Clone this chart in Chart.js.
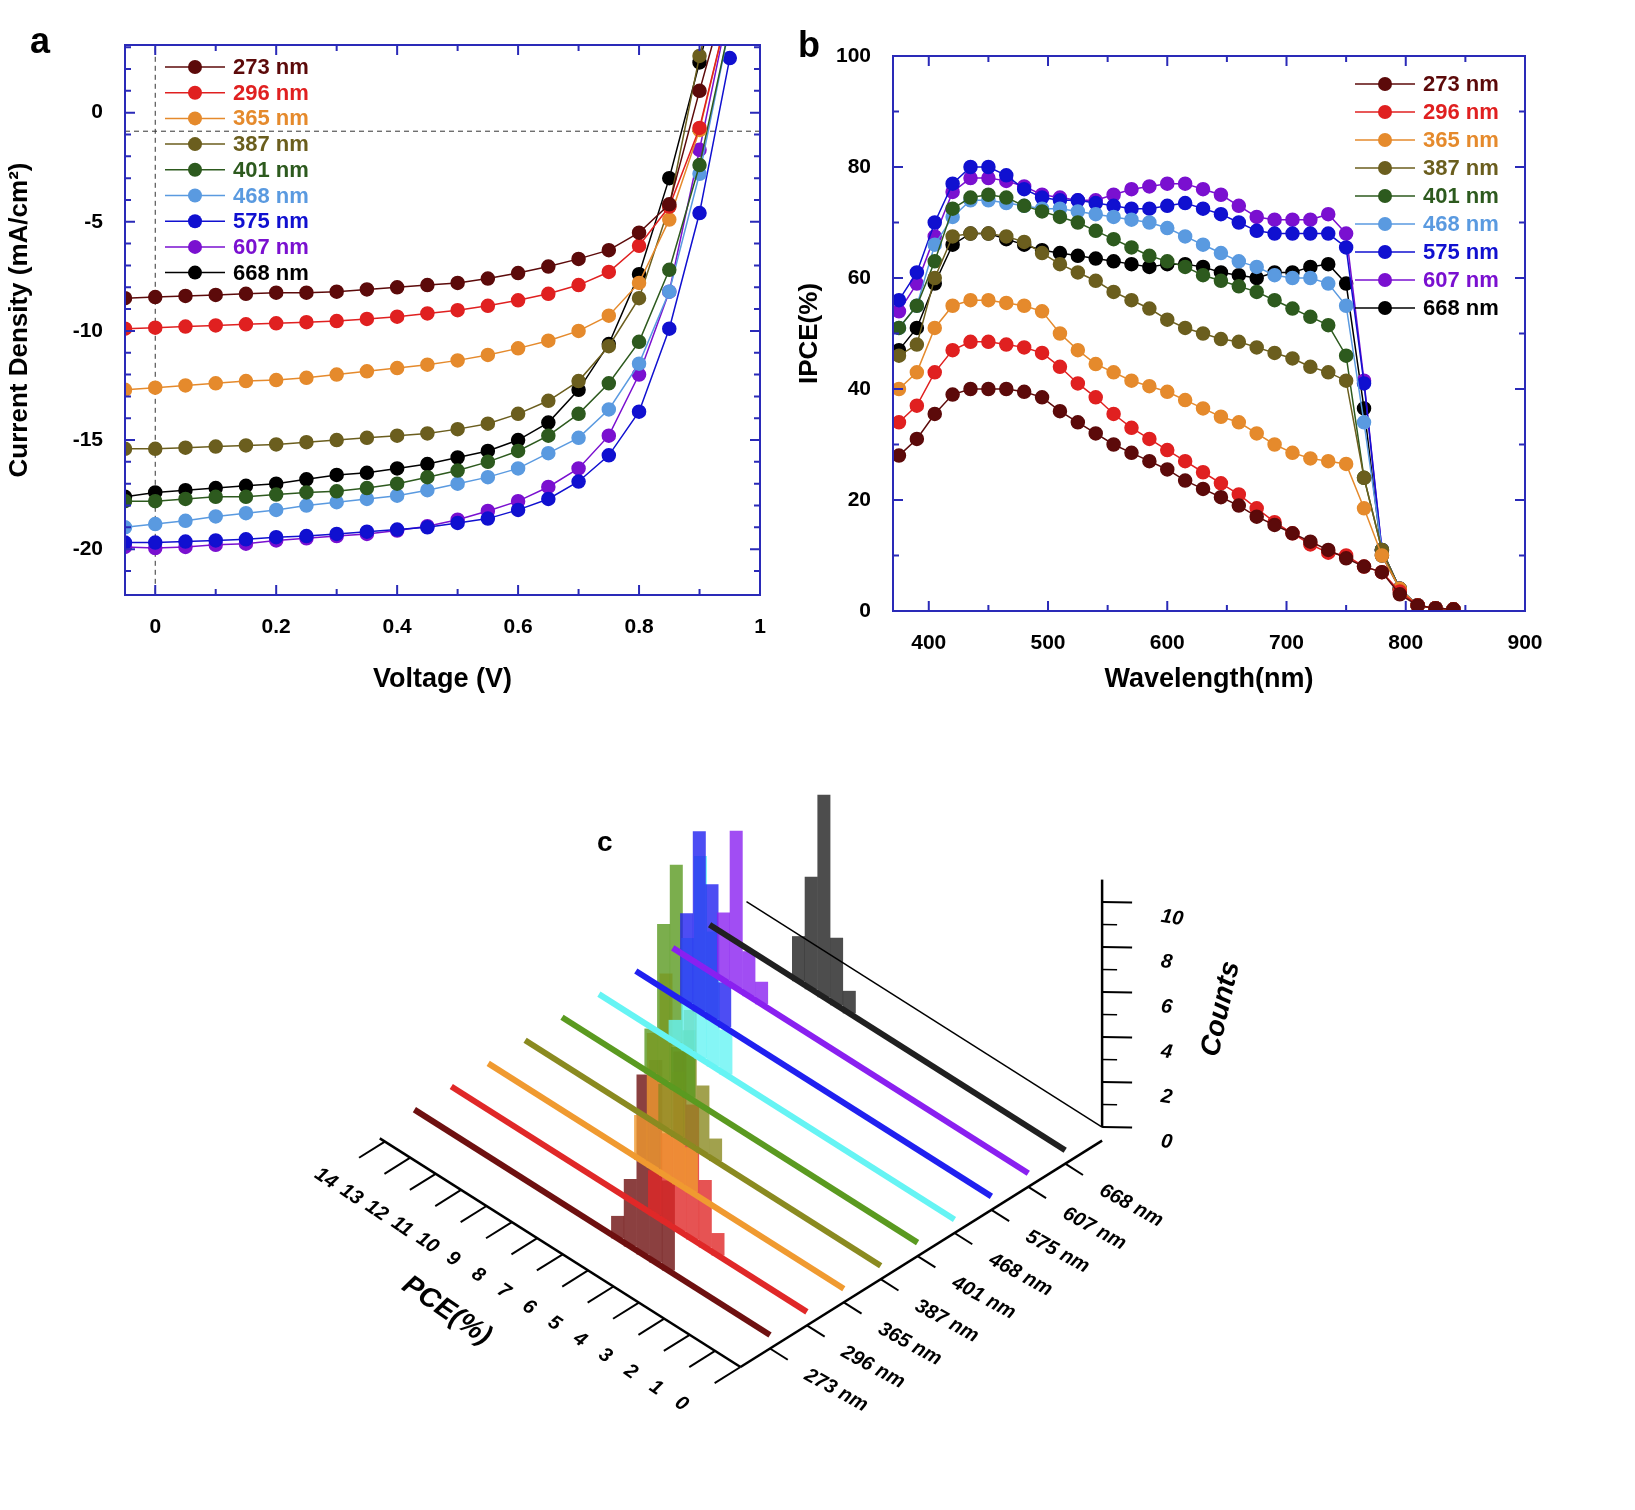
<!DOCTYPE html>
<html><head><meta charset="utf-8">
<script src="https://cdn.jsdelivr.net/npm/chart.js@4"></script>
<style>
body{margin:0;background:#fff;width:1635px;height:1510px;position:relative;overflow:hidden;font-family:Arial,"Liberation Sans",sans-serif}
canvas{position:absolute}
.lab{position:absolute;font:bold 36px "Liberation Sans",Arial,sans-serif}
</style></head><body>
<canvas id="ca" style="left:0;top:0" width="790" height="700"></canvas>
<canvas id="cb" style="left:790px;top:0" width="845" height="700"></canvas>
<canvas id="cc" style="left:300px;top:780px" width="1000" height="680"></canvas>
<div class="lab" style="left:30px;top:20px">a</div>
<div class="lab" style="left:798px;top:24px">b</div>
<div class="lab" style="left:597px;top:826px;font-size:28px">c</div>
<script>
const labels = ["273 nm","296 nm","365 nm","387 nm","401 nm","468 nm","575 nm","607 nm","668 nm"];
const colors = ["#5c0a0a","#e02020","#e58a2c","#6b5e1e","#2d5a1e","#5a9ae0","#1010d0","#7a10d0","#000000"];
const cColors = ["#6e1010","#e02828","#f09a30","#8a8a20","#5a9a20","#66f4f4","#2020f0","#8a20f0","#202020"];

const voltage = [-0.05,0,0.05,0.1,0.15,0.2,0.25,0.3,0.35,0.4,0.45,0.5,0.55,0.6,0.65,0.7,0.75,0.8,0.85,0.9,0.95];
const j273 = [-8.5,-8.45,-8.4,-8.35,-8.3,-8.25,-8.25,-8.2,-8.1,-8.0,-7.9,-7.8,-7.6,-7.35,-7.05,-6.7,-6.3,-5.5,-4.2,1.0,6];
const j296 = [-9.9,-9.85,-9.8,-9.75,-9.7,-9.65,-9.6,-9.55,-9.45,-9.35,-9.2,-9.05,-8.85,-8.6,-8.3,-7.9,-7.3,-6.1,-4.3,-0.7,5];
const j365 = [-12.7,-12.6,-12.5,-12.4,-12.3,-12.25,-12.15,-12.0,-11.85,-11.7,-11.55,-11.35,-11.1,-10.8,-10.45,-10.0,-9.3,-7.8,-4.9,-0.8,5];
const j387 = [-15.4,-15.4,-15.35,-15.3,-15.25,-15.2,-15.1,-15.0,-14.9,-14.8,-14.7,-14.5,-14.25,-13.8,-13.2,-12.3,-10.7,-8.5,-4.3,2.6,8];
const j401 = [-17.8,-17.8,-17.7,-17.6,-17.6,-17.5,-17.4,-17.35,-17.2,-17.0,-16.7,-16.4,-16.0,-15.5,-14.8,-13.8,-12.4,-10.5,-7.2,-2.4,4];
const j468 = [-19.0,-18.85,-18.7,-18.5,-18.35,-18.2,-18.0,-17.85,-17.7,-17.55,-17.3,-17.0,-16.7,-16.3,-15.6,-14.9,-13.6,-11.5,-8.2,-2.8,4];
const j575 = [-19.7,-19.7,-19.65,-19.6,-19.55,-19.45,-19.4,-19.3,-19.2,-19.1,-19.0,-18.8,-18.6,-18.2,-17.7,-16.9,-15.7,-13.7,-9.9,-4.6,2.5];
const j607 = [-19.9,-19.95,-19.9,-19.8,-19.75,-19.6,-19.5,-19.4,-19.3,-19.15,-18.95,-18.65,-18.25,-17.8,-17.15,-16.3,-14.8,-12.0,-8.2,-1.7,5];
const j668 = [-17.6,-17.4,-17.3,-17.2,-17.1,-17.0,-16.8,-16.6,-16.5,-16.3,-16.1,-15.8,-15.5,-15.0,-14.2,-12.7,-10.6,-7.4,-3.0,2.3,8];
const jv = [j273,j296,j365,j387,j401,j468,j575,j607,j668];

const wavelength = [375,390,405,420,435,450,465,480,495,510,525,540,555,570,585,600,615,630,645,660,675,690,705,720,735,750,765,780,795,810,825,840];
const q273 = [28,31,35.5,39,40,40,40,39.5,38.5,36,34,32,30,28.5,27,25.5,23.5,22,20.5,19,17,15.5,14,12.5,11,9.5,8,7,3,1,0.5,0.3];
const q296 = [34,37,43,47,48.5,48.5,48,47.5,46.5,44,41,38.5,35.5,33,31,29,27,25,23,21,18.5,16,14,12,10.5,10,8,7,3.5,1,0.5,0.3];
const q365 = [40,43,51,55,56,56,55.5,55,54,50,47,44.5,43,41.5,40.5,39.5,38,36.5,35,34,32,30,28.5,27.5,27,26.5,18.5,10,4,1,0.5,0.3];
const q387 = [46,48,60,67.5,68,68,67.5,66.5,64.5,62.5,61,59.5,57.5,56,54.5,52.5,51,50,49,48.5,47.5,46.5,45.5,44,43,41.5,24,11,4,1,0.5,0.3];
const q401 = [51,55,63,72.5,74.5,75,74.5,73,72,71,70,68.5,67,65.5,64,63,62,60.5,59.5,58.5,57.5,56,54.5,53,51.5,46,24,11,4,1,0.5,0.3];
const q468 = [51,55,66,71,74,74,73.5,73,72.5,72.5,72,71.5,71,70.5,70,69,67.5,66,64.5,63,62,60.5,60,60,59,55,34,11,4,1,0.5,0.3];
const q575 = [56,61,70,77,80,80,78.5,76,74.5,74,74,73.5,73,72.5,72.5,73,73.5,72.5,71.5,70,68.5,68,68,68,68,65.5,41,11,4,1,0.5,0.3];
const q607 = [54,59,67.5,75.5,78,78,77.5,76.5,75,74.5,74,74,75,76,76.5,77,77,76,75,73,71,70.5,70.5,70.5,71.5,68,41.5,11,4,1,0.5,0.3];
const q668 = [47,51,59,66,68,68,67,66,65,64.5,64,63.5,63,62.5,62,62.5,62.5,62,61,60.5,60,61,61,62,62.5,59,36.5,10,4,1,0.5,0.3];
const ipce = [q273,q296,q365,q387,q401,q468,q575,q607,q668];

// panel c histograms: PCE bin centres and counts per thickness
const pce273 = [4.0,4.5,5.0,5.5,6.0], cnt273 = [4,9,8,3,1];
const pce296 = [3.5,4.0,4.5,5.0,5.5,6.0], cnt296 = [1,3,6,8,4,2];
const pce365 = [6.0,6.5,7.0,7.5,8.0], cnt365 = [2,5,9,6,2];
const pce387 = [6.5,7.0,7.5,8.0,8.5], cnt387 = [1,3,6,4,2];
const pce401 = [9.0,9.5,10.0,10.5], cnt401 = [3,10,7,2];
const pce468 = [9.0,9.5,10.0,10.5,11.0], cnt468 = [2,6,9,5,1];
const pce575 = [10.5,11.0,11.5,12.0], cnt575 = [2,6,8,4];
const pce607 = [10.5,11.0,11.5,12.0], cnt607 = [1,2,7,3];
const pce668 = [8.5,9.0,9.5,10.0,10.5], cnt668 = [1,3,9,5,2];
const hPce = [pce273,pce296,pce365,pce387,pce401,pce468,pce575,pce607,pce668];
const hCnt = [cnt273,cnt296,cnt365,cnt387,cnt401,cnt468,cnt575,cnt607,cnt668];
const pceTicks = [0,1,2,3,4,5,6,7,8,9,10,11,12,13,14];
const countTicks = [0,2,4,6,8,10];

const AX = '#2a2ab8';
const F = 'bold 22px "Liberation Sans", Arial, sans-serif';
function frame(color,xMaj,xMin,yMaj,yMin){return {id:'frame',afterDraw(c){const a=c.chartArea,x=c.ctx,sx=c.scales.x,sy=c.scales.y;x.save();x.strokeStyle=color;x.lineWidth=2;x.strokeRect(a.left,a.top,a.right-a.left,a.bottom-a.top);
 const tk=(vals,len)=>{vals.forEach(v=>{const px=sx.getPixelForValue(v);x.beginPath();x.moveTo(px,a.bottom);x.lineTo(px,a.bottom-len);x.moveTo(px,a.top);x.lineTo(px,a.top+len);x.stroke();});};
 const tky=(vals,len)=>{vals.forEach(v=>{const py=sy.getPixelForValue(v);x.beginPath();x.moveTo(a.left,py);x.lineTo(a.left+len,py);x.moveTo(a.right,py);x.lineTo(a.right-len,py);x.stroke();});};
 tk(xMaj,10);tk(xMin,6);tky(yMaj,10);tky(yMin,6);x.restore();}};}
function legendPlugin(x0,y0,dy){return {id:'lg',afterDraw(c){const x=c.ctx;x.save();x.font=F;x.textBaseline='middle';
 labels.forEach((l,i)=>{const y=y0+i*dy;x.strokeStyle=colors[i];x.lineWidth=1.5;x.beginPath();x.moveTo(x0,y);x.lineTo(x0+60,y);x.stroke();
 x.fillStyle=colors[i];x.beginPath();x.arc(x0+30,y,7,0,7);x.fill();x.fillText(l,x0+68,y+1);});x.restore();}};}

Chart.defaults.animation=false;
Chart.defaults.font.family='"Liberation Sans", Arial, sans-serif';
Chart.defaults.color='#000';

const yMinorA=[-21,-19,-18,-17,-16,-14,-13,-12,-11,-9,-8,-7,-6,-4,-3,-2,-1,1,2,3];
new Chart(document.getElementById('ca'),{type:'scatter',
 data:{datasets:[
  ...jv.map((d,i)=>({label:labels[i],data:voltage.map((v,k)=>({x:v,y:d[k]})),showLine:true,borderColor:colors[i],backgroundColor:colors[i],borderWidth:1.5,pointRadius:6.5,pointHoverRadius:6.5})),
  {label:'h',data:[{x:-0.05,y:-0.85},{x:1,y:-0.85}],showLine:true,borderColor:'#333',borderWidth:1,borderDash:[5,4],pointRadius:0},
  {label:'v',data:[{x:0,y:-22},{x:0,y:3.1}],showLine:true,borderColor:'#333',borderWidth:1,borderDash:[5,4],pointRadius:0}
 ]},
 options:{responsive:false,clip:true,layout:{padding:{top:45,right:30,left:0,bottom:0}},
  plugins:{legend:{display:false},tooltip:{enabled:false}},
  scales:{
   x:{type:'linear',min:-0.05,max:1,afterBuildTicks(s){s.ticks=[0,0.2,0.4,0.6,0.8,1].map(v=>({value:v}));},
      afterFit(s){s.height=105;},
      ticks:{font:{size:21,weight:'bold'},padding:12,callback:v=>v===0||v===1?String(v):v.toFixed(1)},
      grid:{display:false},border:{color:AX,width:2},
      title:{display:true,text:'Voltage (V)',font:{size:27,weight:'bold'},padding:{top:4}}},
   y:{min:-22.1,max:3.1,afterBuildTicks(s){s.ticks=[-20,-15,-10,-5,0].map(v=>({value:v}));},
      afterFit(s){s.width=125;},
      ticks:{font:{size:21,weight:'bold'},padding:14},
      grid:{display:false},border:{color:AX,width:2},
      title:{display:true,text:'Current Density (mA/cm²)',font:{size:26,weight:'bold'},padding:{bottom:6}}}
  }},
 plugins:[frame(AX,[0,0.2,0.4,0.6,0.8,1],[0.1,0.3,0.5,0.7,0.9],[-20,-15,-10,-5,0],yMinorA),legendPlugin(165,67,25.7)]});

new Chart(document.getElementById('cb'),{type:'scatter',
 data:{datasets:ipce.map((d,i)=>({label:labels[i],data:wavelength.map((w,k)=>({x:w,y:d[k]})),showLine:true,borderColor:colors[i],backgroundColor:colors[i],borderWidth:1.5,pointRadius:6.5,pointHoverRadius:6.5}))},
 options:{responsive:false,layout:{padding:{top:56,right:110,left:0,bottom:0}},
  plugins:{legend:{display:false},tooltip:{enabled:false}},
  scales:{
   x:{type:'linear',min:370,max:900,afterBuildTicks(s){s.ticks=[400,500,600,700,800,900].map(v=>({value:v}));},
      afterFit(s){s.height=89;},
      ticks:{font:{size:21,weight:'bold'},padding:12},
      grid:{display:false},border:{color:AX,width:2},
      title:{display:true,text:'Wavelength(nm)',font:{size:27,weight:'bold'},padding:{top:4}}},
   y:{min:0,max:100,afterBuildTicks(s){s.ticks=[0,20,40,60,80,100].map(v=>({value:v}));},
      afterFit(s){s.width=103;},
      ticks:{font:{size:21,weight:'bold'},padding:14},
      grid:{display:false},border:{color:AX,width:2},
      title:{display:true,text:'IPCE(%)',font:{size:26,weight:'bold'},padding:{bottom:4}}}
  }},
 plugins:[frame(AX,[400,500,600,700,800,900],[450,550,650,750,850],[0,20,40,60,80,100],[10,30,50,70,90]),legendPlugin(565,84,28)]});

// ---- panel c: oblique projection
function P(p,k,c){return {x:470-25.4*p+36.9*k, y:555-16.1*p-23.1*k-22.5*c};}
function seg(a,b,color,w){return {data:[a,b],showLine:true,borderColor:color,borderWidth:w,pointRadius:0,borderCapStyle:'butt'};}
const ds=[];
ds.push(seg(P(0,-0.8,-0.6),P(14.2,-0.8,-0.6),'#000',2.5));
ds.push(seg(P(0,-0.8,-0.6),P(0,9,-0.6),'#000',2.5));
pceTicks.forEach(t=>ds.push(seg(P(t,-0.8,-0.6),P(t,-1.5,-0.6),'#000',2)));
labels.forEach((l,k)=>ds.push(seg(P(0,k,-0.6),P(-0.7,k,-0.6),'#000',2)));
ds.push(seg(P(0,9,0),P(0,9,11),'#000',2.5));
countTicks.forEach(t=>ds.push(seg(P(0,9,t),P(-0.6,9.4,t),'#000',2)));
[1,3,5,7,9].forEach(t=>ds.push(seg(P(0,9,t),P(-0.3,9.2,t),'#000',1.5)));
ds.push(seg(P(0,9,0),P(14,9,0),'#000',1.5));
for(let k=8;k>=0;k--){
 ds.push(seg(P(0,k,0),P(14,k,0),cColors[k],6));
 const ps=hPce[k], cs=hCnt[k];
 const order=ps.map((p,i)=>i).sort((a,b)=>ps[b]-ps[a]);
 order.forEach(i=>{ds.push(seg(P(ps[i],k,0),P(ps[i],k,cs[i]),cColors[k]+'cc',13));});
}
new Chart(document.getElementById('cc'),{type:'scatter',data:{datasets:ds},
 options:{responsive:false,layout:{padding:0},plugins:{legend:{display:false},tooltip:{enabled:false}},
  scales:{x:{display:false,min:0,max:1000},y:{display:false,min:0,max:680,reverse:true}}},
 plugins:[{id:'ctext',afterDraw(c){const x=c.ctx,sx=c.scales.x,sy=c.scales.y;
  const at=(q)=>({x:sx.getPixelForValue(q.x),y:sy.getPixelForValue(q.y)});
  x.save();x.fillStyle='#000';x.font='bold italic 20px "Liberation Sans", Arial, sans-serif';
  pceTicks.forEach(t=>{const q=at(P(t,-2.4,-0.6));x.save();x.translate(q.x,q.y);x.rotate(0.6);x.textAlign='center';x.textBaseline='middle';x.fillText(String(t),0,0);x.restore();});
  labels.forEach((l,k)=>{const q=at(P(-2.6,k,-0.6));x.save();x.translate(q.x,q.y);x.rotate(0.5);x.textAlign='center';x.textBaseline='middle';x.fillText(l,0,0);x.restore();});
  countTicks.forEach(t=>{const q=at(P(-1.6,9.5,t));x.save();x.translate(q.x,q.y);x.rotate(0.15);x.textAlign='left';x.textBaseline='middle';x.fillText(String(t),0,0);x.restore();});
  x.font='bold italic 28px "Liberation Sans", Arial, sans-serif';
  let q=at(P(-2.5,10.5,5.5));x.save();x.translate(q.x,q.y);x.rotate(-1.35);x.textAlign='center';x.textBaseline='middle';x.fillText('Counts',0,0);x.restore();
  q=at(P(7.5,-3.6,-0.6));x.save();x.translate(q.x,q.y);x.rotate(0.6);x.textAlign='center';x.textBaseline='middle';x.fillText('PCE(%)',0,0);x.restore();
  x.restore();}}]});
</script></body></html>
